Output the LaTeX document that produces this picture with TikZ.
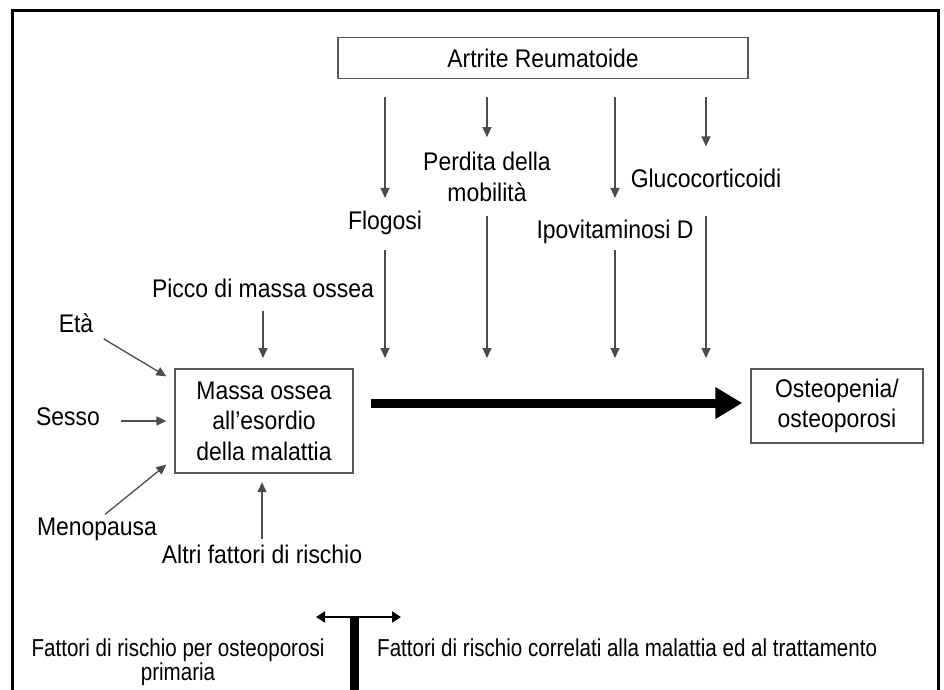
\documentclass[tikz,border=0pt]{standalone}
\usepackage{fontspec}
\setmainfont{Liberation Sans}
\newfontfamily\upfont[FakeStretch=0.9]{Liberation Sans}
\newfontfamily\lowfont[FakeStretch=0.84]{Liberation Sans}
\usetikzlibrary{arrows.meta,calc}

\begin{document}
\begin{tikzpicture}[x=1pt,y=-1pt,
    txt/.style={inner sep=0pt, align=center, font=\upfont\fontsize{25.5}{30.5}\selectfont},
    note/.style={inner sep=0pt, align=center, font=\lowfont\fontsize{24.5}{24}\selectfont},
    box/.style={draw=black!65, line width=1.3pt, inner sep=0pt, align=center, font=\upfont\fontsize{25.5}{30.5}\selectfont},
    arr/.style={draw=black!70, line width=1.3pt, -{Triangle[width=9pt,length=10pt]}},
    bigarr/.style={line width=9pt, -{Triangle[width=30pt,length=27pt]}},
    dblarr/.style={line width=2pt, {Triangle[width=11pt,length=9pt]}-{Triangle[width=11pt,length=9pt]}},
  ]
    % page and frame
    \useasboundingbox (0,0) rectangle (944,689);
    \clip (0,0) rectangle (944,689);
    \fill[white] (0,0) rectangle (944,689);
    \draw[line width=3pt] (12,700) |- (938,10) -- (938,700);

    % boxes
    \node[box, minimum width=410pt, minimum height=41pt] (art) at (543,58) {Artrite Reumatoide};
    \node[box, minimum width=178pt, minimum height=104pt] (massa) at (264,421) {Massa ossea\\all’esordio\\della malattia};
    \node[box, minimum width=172pt, minimum height=74pt] (oste) at (837,406) {Osteopenia/\\osteoporosi};

    % labels
    \node[txt] (flog) at (385,223) {Flogosi};
    \node[txt] (perd) at (487,177) {Perdita della\\mobilità};
    \node[txt] (ipo) at (615,232) {Ipovitaminosi D};
    \node[txt] (gluc) at (706,178) {Glucocorticoidi};
    \node[txt] (picco) at (263,288) {Picco di massa ossea};
    \node[txt] (eta) at (76,323) {Età};
    \node[txt] (sesso) at (68,417) {Sesso};
    \node[txt] (meno) at (97,529) {Menopausa};
    \node[txt] (altri) at (262,554) {Altri fattori di rischio};
    \coordinate (row) at (0,358);

    % disease arrows
    \foreach \n/\g in {flog/13, perd/15, ipo/22, gluc/22}
        \draw[arr, shorten <=17.5pt, shorten >=\g pt] (art.south -| \n) -- (\n.north);
    \foreach \n/\g in {flog/15, perd/14, ipo/6, gluc/28, picco/13}
        \draw[arr, shorten <=\g pt] (\n.south) -- (\n.south |- row);

    % primary risk factors
    \draw[arr, shorten <=12pt] (eta.south east) -- ([shift={(-8pt,-8pt)}]massa.north west);
    \draw[arr, shorten <=21pt, shorten >=8pt] (sesso.east |- massa.west) -- (massa.west);
    \draw[arr] ([shift={(8pt,3pt)}]meno.north) -- ([shift={(-8pt,9pt)}]massa.south west);
    \draw[arr, shorten <=5pt, shorten >=8.5pt] (altri.north) -- (altri.north |- massa.south);

    % main arrow
    \draw[bigarr, shorten <=17pt, shorten >=8pt] ([yshift=3pt]massa.east |- oste.west) -- ([yshift=3pt]oste.west);

    % legend
    \coordinate (split) at (354.5,617);
    \coordinate (lft) at (316,617);
    \coordinate (rgt) at (401,617);
    \coordinate (foot) at (354.5,700);
    \draw[dblarr] (lft) -- (rgt);
    \draw[line width=9pt] (split) -- (foot);
    \node[note] (prim) at (178,662) {Fattori di rischio per osteoporosi\\primaria};
    \node[note, anchor=west] (sec) at (377,647.5) {Fattori di rischio correlati alla malattia ed al trattamento};
\end{tikzpicture}
\end{document}
